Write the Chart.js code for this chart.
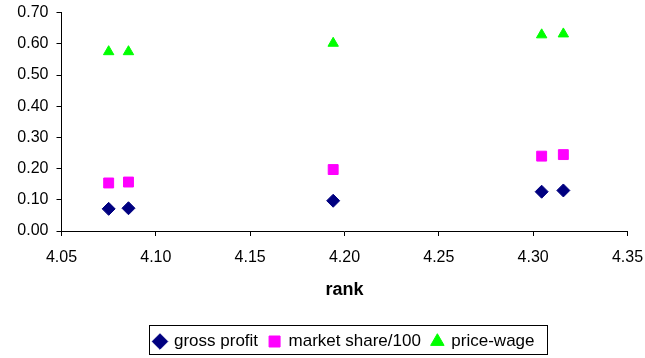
<!DOCTYPE html>
<html>
<head>
<meta charset="utf-8">
<script src="https://cdn.jsdelivr.net/npm/chart.js@4/dist/chart.umd.min.js"></script>
<style>
  html, body { margin: 0; padding: 0; background: #fff; }
  #wrap { width: 645px; height: 358px; }
</style>
</head>
<body>
<div id="wrap"><canvas id="chart" width="645" height="358"></canvas></div>
<script>
// values
const rank = [4.075, 4.0855, 4.194, 4.3045, 4.316];
const grossProfit = [0.071, 0.073, 0.097, 0.126, 0.130];
const marketShare = [0.154, 0.157, 0.197, 0.240, 0.245];
const priceWage = [0.575, 0.575, 0.602, 0.629, 0.632];

const xTicks = { min: 4.05, max: 4.35, step: 0.05 };
const yTicks = { min: 0, max: 0.70, step: 0.10 };

const font = 'Arial, "Liberation Sans", sans-serif';

function points(ys) {
    return rank.map((x, i) => ({ x: x, y: ys[i] }));
}

function series(label, ys, color, style, radius) {
    return {
        label: label,
        data: points(ys),
        backgroundColor: color,
        borderColor: color,
        borderWidth: 1,
        pointStyle: style,
        pointRadius: radius,
        pointHoverRadius: radius,
        showLine: false
    };
}

function fixedTicks(spec) {
    return function (scale) {
        const ticks = [];
        for (let v = spec.min; v <= spec.max + 1e-9; v += spec.step) {
            ticks.push({ value: Math.round(v * 100) / 100 });
        }
        scale.ticks = ticks;
    };
}

// box round the legend, like the spreadsheet one
const legendFrame = {
    id: 'legendFrame',
    afterDraw(chart) {
        const boxes = chart.legend && chart.legend.legendHitBoxes;
        if (!boxes || !boxes.length) return;
        const first = boxes[0];
        const last = boxes[boxes.length - 1];
        const ctx = chart.ctx;
        const left = Math.round(first.left - 5) + 0.5;
        const right = Math.round(last.left + last.width + 12) + 0.5;
        const top = Math.round(first.top - 8) + 0.5;
        const bottom = Math.round(first.top + first.height + 4) + 0.5;
        ctx.save();
        ctx.strokeStyle = '#000';
        ctx.lineWidth = 1;
        ctx.strokeRect(left, top, right - left, bottom - top);
        ctx.restore();
    }
};

new Chart(document.getElementById('chart'), {
    type: 'scatter',
    data: {
        datasets: [
            series('gross profit', grossProfit, '#000080', 'rectRot', 6.5),
            series('market share/100', marketShare, '#FF00FF', 'rect', 7),
            series('price-wage', priceWage, '#00FF00', 'triangle', 6)
        ]
    },
    options: {
        responsive: false,
        animation: false,
        layout: {
            padding: { left: 0, right: 17.5, top: 12.7, bottom: -2 }
        },
        plugins: {
            tooltip: { enabled: false },
            legend: {
                position: 'bottom',
                fullSize: false,
                labels: {
                    usePointStyle: true,
                    boxWidth: 11,
                    boxHeight: 11,
                    padding: 11,
                    color: '#000',
                    font: { family: font, size: 17 }
                }
            }
        },
        scales: {
            x: {
                type: 'linear',
                min: xTicks.min,
                max: xTicks.max,
                afterBuildTicks: fixedTicks(xTicks),
                afterFit(scale) {
                    scale.height = 91;
                    scale.paddingLeft = 0;
                    scale.paddingRight = 0;
                },
                ticks: {
                    padding: 12,
                    color: '#000',
                    font: { family: font, size: 16 },
                    callback: v => Number(v).toFixed(2)
                },
                grid: { drawOnChartArea: false, tickLength: 5, color: '#000' },
                border: { color: '#000' },
                title: {
                    display: true,
                    text: 'rank',
                    color: '#000',
                    font: { family: font, size: 18, weight: 'bold' },
                    padding: { top: 0, bottom: 21 }
                }
            },
            y: {
                type: 'linear',
                min: yTicks.min,
                max: yTicks.max,
                afterBuildTicks: fixedTicks(yTicks),
                afterFit(scale) {
                    scale.width = 61.5;
                    scale.paddingTop = 0;
                    scale.paddingBottom = 0;
                },
                ticks: {
                    padding: 8,
                    color: '#000',
                    font: { family: font, size: 16 },
                    callback: v => Number(v).toFixed(2)
                },
                grid: { drawOnChartArea: false, tickLength: 5, color: '#000' },
                border: { color: '#000' }
            }
        }
    },
    plugins: [legendFrame]
});
</script>
</body>
</html>
